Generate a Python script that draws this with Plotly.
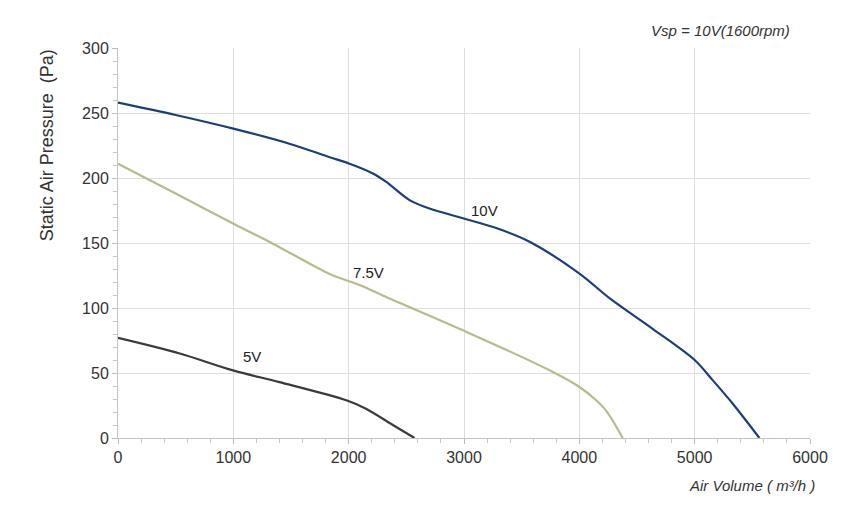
import plotly.graph_objects as go

# Data
v10_x = [0, 500, 1000, 1500, 1835, 2008, 2210, 2326, 2528, 2701, 2990, 3279, 3568, 4001, 4270, 4636, 5000, 5156, 5329, 5561]
v10_y = [258, 248.5, 238, 226, 216, 211, 203.5, 197, 183, 176.5, 169, 161.5, 151, 126.5, 107, 84, 60, 44.5, 26.5, 0]

v75_x = [0, 500, 997, 1343, 1840, 2100, 2300, 2992, 3712, 4001, 4146, 4232, 4376]
v75_y = [211, 188, 165, 149.5, 126, 117.5, 109.5, 82.8, 53.4, 39.2, 29, 21, 0]

v5_x = [0, 536, 997, 1400, 1980, 2150, 2383, 2571]
v5_y = [77, 65, 52, 43, 29, 22.5, 10, 0]

series = [
    ("10V", v10_x, v10_y, "#1d3e78", 3180, 175),
    ("7.5V", v75_x, v75_y, "#b9ba8e", 2170, 127),
    ("5V", v5_x, v5_y, "#3b3b3b", 1160, 63),
]

x_ticks = [0, 1000, 2000, 3000, 4000, 5000, 6000]
y_ticks = [0, 50, 100, 150, 200, 250, 300]

FONT = "Liberation Sans, Arial, sans-serif"

fig = go.Figure()
for name, xs, ys, color, lx, ly in series:
    fig.add_trace(go.Scatter(
        x=xs, y=ys, mode="lines", name=name,
        line=dict(color=color, width=2.2, shape="spline", smoothing=0.9),
        showlegend=False, hoverinfo="skip",
    ))
    fig.add_annotation(x=lx, y=ly, text=name, showarrow=False,
                       font=dict(family=FONT, size=15, color="#222222"))

fig.add_annotation(xref="paper", yref="paper", x=(720 - 118) / 692, y=1.0, yshift=18,
                   xanchor="center", yanchor="middle",
                   text="<i>Vsp = 10V(1600rpm)</i>", showarrow=False,
                   font=dict(family=FONT, size=15, color="#333333"))
fig.add_annotation(xref="paper", yref="paper", x=(752 - 118) / 692, y=0, yshift=-47,
                   xanchor="center", yanchor="middle",
                   text="<i>Air Volume ( m³/h )</i>", showarrow=False,
                   font=dict(family=FONT, size=15, color="#333333"))
fig.add_annotation(xref="paper", yref="paper", x=0, xshift=-71, y=(437.7 - 145) / 390,
                   xanchor="center", yanchor="middle",
                   text="Static Air Pressure  (Pa)", showarrow=False, textangle=-90,
                   font=dict(family=FONT, size=18, color="#333333"))

axis_common = dict(
    showgrid=True, gridcolor="#dedede", gridwidth=1,
    showline=True, linecolor="#c4c4c4", linewidth=1,
    ticks="outside", ticklen=5, tickcolor="#bdbdbd",
    tickfont=dict(family=FONT, size=16, color="#333333"),
    zeroline=False,
)

fig.update_xaxes(range=[0, 6000], tickvals=x_ticks,
                 minor=dict(dtick=200, ticks="outside", ticklen=4, tickcolor="#c8c8c8", showgrid=False),
                 **axis_common)
fig.update_yaxes(range=[0, 300], tickvals=y_ticks,
                 minor=dict(dtick=10, ticks="outside", ticklen=4, tickcolor="#c8c8c8", showgrid=False),
                 **axis_common)

fig.update_layout(
    width=863, height=523,
    margin=dict(l=118, r=53, t=48, b=85),
    paper_bgcolor="white", plot_bgcolor="white",
    font=dict(family=FONT),
)

fig.write_html("out.html")
